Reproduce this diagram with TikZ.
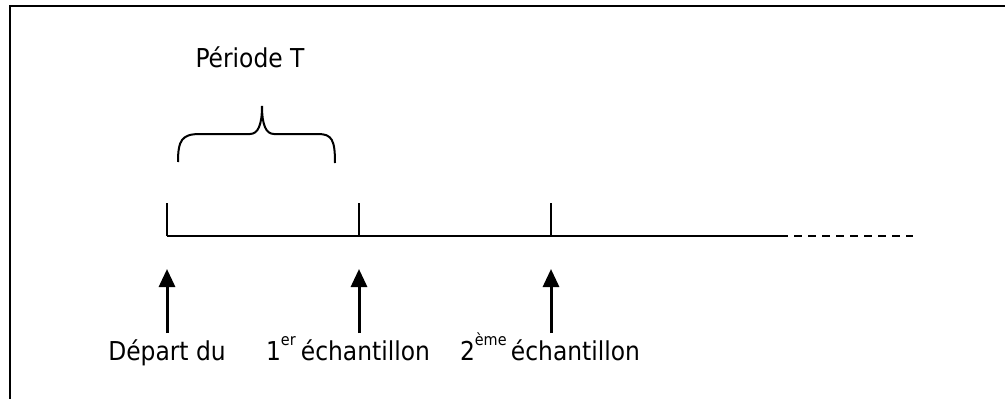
\documentclass[tikz,border=0pt]{standalone}
\usepackage{fontspec}
\setmainfont{DejaVu Sans Condensed}
\usetikzlibrary{arrows.meta}
\tikzset{axe/.style={line width=2pt}, graduation/.style={line width=1.5pt},
  fleche/.style={line width=3pt,-{Triangle[width=16pt,length=18pt]}},
  legende/.style={anchor=base, inner sep=0pt, font=\fontsize{26}{31}\selectfont}}
\newcommand\expo[1]{\raisebox{1.0ex}{\fontsize{16}{16}\selectfont #1}}

\begin{document}
\begin{tikzpicture}[x=1pt,y=-1pt]
  \useasboundingbox (0,0) rectangle (1005,399);
  \begin{scope}
   \clip (0,0) rectangle (1005,399);
   \draw[line width=2.4pt] (9.7,5.8) rectangle (1020,420);
  \end{scope}
  \coordinate (t0) at (167,236);
  \coordinate (t1) at (359,236);
  \coordinate (t2) at (551,236);
  \coordinate (fin) at (780,236);
  \coordinate (loin) at (913,236);
  \draw[axe] (t0) -- (fin);
  \draw[axe,dash pattern=on 8pt off 6pt] (fin) -- (loin);
  \foreach \t in {t0,t1,t2}
   \draw[graduation] (\t) -- ++(0,-33);
  \foreach \t/\i in {t0/0,t1/1,t2/2} {
   \coordinate (b\i) at ([yshift=-97pt]\t);
   \coordinate (h\i) at ([yshift=-33pt]\t);
   \draw[fleche] (b\i) -- (h\i);
  }
  \node[legende] (depart) at (167,360) {Départ du};
  \node[legende] (ech1) at (348,360) {1\expo{er}\hspace{0.2em}échantillon};
  \node[legende] (ech2) at (550,360) {2\expo{ème}\,échantillon};
  \node[legende] (periode) at (250,67) {Période T};
  \draw[line width=2pt]
    (178,162) .. controls (178,140) and (182,134) .. (200,134) -- (250,134)
    .. controls (258,134) and (262,125) .. (262,106)
    .. controls (262,125) and (266,134) .. (274,134) -- (318,134)
    .. controls (332,134) and (335,140) .. (335,163);
 \end{tikzpicture}
\end{document}
